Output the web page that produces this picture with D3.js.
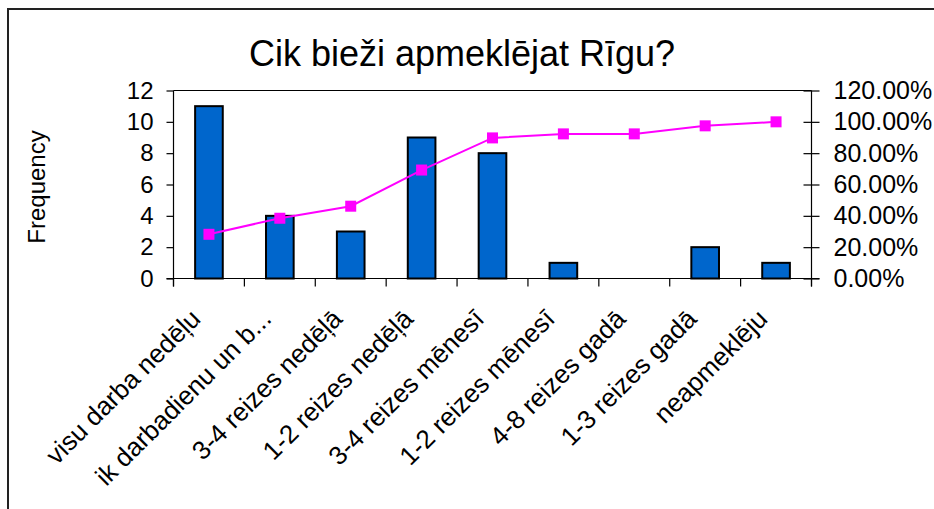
<!DOCTYPE html>
<html><head><meta charset="utf-8">
<script src="https://cdn.jsdelivr.net/npm/d3@7"></script>
<style>
body{margin:0;background:#fff;}
svg{display:block;font-family:"Liberation Sans",Arial,sans-serif;}
</style></head>
<body><svg id="c" width="934" height="509"></svg>
<script>
const title = "Cik bieži apmeklējat Rīgu?";
const yTitle = "Frequency";
const categories = ["visu darba nedēļu","ik darbadienu un b...","3-4 reizes nedēļā","1-2 reizes nedēļā","3-4 reizes mēnesī","1-2 reizes mēnesī","4-8 reizes gadā","1-3 reizes gadā","neapmeklēju"];
const frequency = [11,4,3,9,8,1,0,2,1];
const cumulativePct = [28.21,38.46,46.15,69.23,89.74,92.31,92.31,97.44,100];
const leftTicks = [0,2,4,6,8,10,12];
const rightTicks = [0,20,40,60,80,100,120];

const svg = d3.select("#c");
const L = 173.5, R = 811.5, T = 90.5, B = 278.5;

// outer border
svg.append("rect").attr("x",8).attr("y",9).attr("width",940).attr("height",520)
  .attr("fill","none").attr("stroke","#222").attr("stroke-width",2);

const x = d3.scaleBand().domain(categories).range([L,R]).paddingInner(0).paddingOuter(0);
const yL = d3.scaleLinear().domain([0,12]).range([B,T]);
const yR = d3.scaleLinear().domain([0,120]).range([B,T]);

// title
svg.append("text").attr("x",462).attr("y",66).attr("text-anchor","middle")
  .attr("font-size",36).attr("fill","#000").text(title);

// y title
svg.append("text").attr("transform","translate(45,187) rotate(-90)")
  .attr("text-anchor","middle").attr("font-size",24).attr("fill","#000").text(yTitle);

// bars
const bw = x.bandwidth()*0.39;
svg.append("g").selectAll("rect").data(frequency).join("rect")
  .attr("x",(d,i)=>x(categories[i])+x.bandwidth()/2-bw/2)
  .attr("y",d=>yL(d))
  .attr("width",bw)
  .attr("height",d=>B-yL(d))
  .attr("fill",d=>d>0?"#0066CC":"none")
  .attr("stroke",d=>d>0?"#000":"none").attr("stroke-width",2);

// frame lines
const frame = svg.append("g").attr("stroke","#000").attr("stroke-width",1.2);
frame.append("line").attr("x1",L).attr("x2",R).attr("y1",T).attr("y2",T);
frame.append("line").attr("x1",L).attr("x2",L).attr("y1",T).attr("y2",B+8);
frame.append("line").attr("x1",R).attr("x2",R).attr("y1",T).attr("y2",B+8);
frame.append("line").attr("x1",L-7).attr("x2",R+8).attr("y1",B).attr("y2",B);

// left axis
const gl = svg.append("g").attr("transform",`translate(${L},0)`)
  .call(d3.axisLeft(yL).tickValues(leftTicks).tickSize(7).tickSizeOuter(0).tickPadding(13).tickFormat(d3.format("d")));
// right axis (cross ticks)
const gr = svg.append("g").attr("transform",`translate(${R},0)`)
  .call(d3.axisRight(yR).tickValues(rightTicks).tickSize(8).tickSizeOuter(0).tickPadding(14).tickFormat(d=>d.toFixed(2)+"%"));
const gr2 = svg.append("g").attr("transform",`translate(${R},0)`)
  .call(d3.axisLeft(yR).tickValues(rightTicks).tickSize(8).tickSizeOuter(0).tickFormat(""));
[gl,gr,gr2].forEach(g=>{
  g.select(".domain").remove();
  g.selectAll("line").attr("stroke","#000").attr("stroke-width",1.2);
  g.selectAll("text").attr("font-size",24).attr("fill","#000").attr("font-family","Liberation Sans, Arial, sans-serif");
});
gr.selectAll("text").attr("font-size",25);

// category ticks at band boundaries
const bounds = categories.map(c=>x(c)).concat([R]);
svg.append("g").selectAll("line").data(bounds).join("line")
  .attr("x1",d=>d).attr("x2",d=>d).attr("y1",B).attr("y2",B+8)
  .attr("stroke","#000").attr("stroke-width",1.2);

// category labels
svg.append("g").selectAll("text").data(categories).join("text")
  .attr("transform",d=>`translate(${x(d)+x.bandwidth()/2-7},${B+42}) rotate(-45)`)
  .attr("text-anchor","end").attr("font-size",26).attr("fill","#000").text(d=>d);

// cumulative line
const line = d3.line().x((d,i)=>x(categories[i])+x.bandwidth()/2).y(d=>yR(d));
svg.append("path").datum(cumulativePct).attr("d",line)
  .attr("fill","none").attr("stroke","#FF00FF").attr("stroke-width",2);
svg.append("g").selectAll("rect").data(cumulativePct).join("rect")
  .attr("x",(d,i)=>x(categories[i])+x.bandwidth()/2-5.5)
  .attr("y",d=>yR(d)-5.5).attr("width",11).attr("height",11)
  .attr("fill","#FF00FF");
</script></body></html>
